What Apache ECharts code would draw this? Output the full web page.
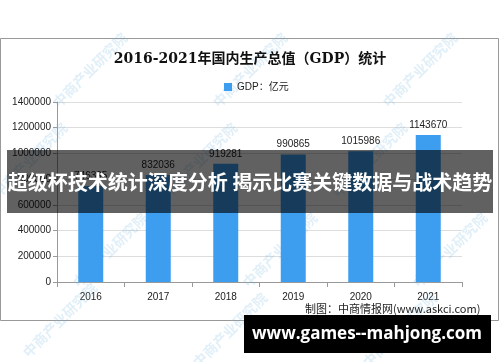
<!DOCTYPE html>
<html><head><meta charset="utf-8">
<script src="https://cdn.jsdelivr.net/npm/echarts@6/dist/echarts.min.js"></script>
<style>html,body{margin:0;padding:0;background:#fff}#c{width:500px;height:362px}</style>
</head><body><div id="c"></div>
<script>
const categories = ['2016','2017','2018','2019','2020','2021'];
const gdpValues = [746395, 832036, 919281, 990865, 1015986, 1143670];
const yTicks = [0, 200000, 400000, 600000, 800000, 1000000, 1200000, 1400000];
const titleText = '2016-2021年国内生产总值（GDP）统计';
const legendName = 'GDP：亿元';
const sourceText = '制图：中商情报网(www.askci.com)';
const bannerText = '超级杯技术统计深度分析 揭示比赛关键数据与战术趋势';
const footerText = 'www.games--mahjong.com';
const watermark = '中商产业研究院';

const chart = echarts.init(document.getElementById('c'), null, {renderer:'canvas'});
const wm = [];
const wmPos = [[90,70],[250,70],[420,70],[30,160],[200,160],[370,160],[110,250],[280,250],[450,250],[60,320],[230,330],[400,330]];
wmPos.forEach(p => wm.push({type:'text', x:p[0], y:p[1], rotation:Math.PI/4, z:1,
  style:{text:watermark, fill:'rgba(120,180,225,0.22)', font:'bold 14px "Noto Sans CJK SC"', textAlign:'center', textVerticalAlign:'middle'}}));

chart.setOption({
  animation:false,
  backgroundColor:'#fff',
  title:{text:titleText, left:'center', top:47, textStyle:{fontFamily:'"DejaVu Serif","Noto Sans CJK SC"', fontSize:14, fontWeight:'bold', color:'#111'}},
  legend:{data:[legendName], left:219, top:77, itemWidth:8, itemHeight:8, itemGap:4, icon:'rect',
    textStyle:{fontFamily:'"Liberation Sans","Noto Sans CJK SC"', fontSize:10, color:'#222'}},
  grid:{left:57, right:38, top:102, bottom:80},
  xAxis:{type:'category', data:categories,
    axisLine:{lineStyle:{color:'#999'}}, axisTick:{show:true, lineStyle:{color:'#999'}},
    axisLabel:{color:'#222', fontSize:10, fontFamily:'"Liberation Sans"', margin:10}},
  yAxis:{type:'value', min:0, max:1400000, interval:200000,
    axisLine:{show:true, lineStyle:{color:'#999'}}, axisTick:{show:true, length:4, lineStyle:{color:'#999'}},
    axisLabel:{color:'#222', fontSize:10, fontFamily:'"Liberation Sans"', margin:6,
      formatter:v => yTicks.includes(v) ? String(v) : ''},
    splitLine:{lineStyle:{color:'#ddd'}}},
  series:[{name:legendName, type:'bar', data:gdpValues, barWidth:25, itemStyle:{color:'#3d9ef0'},
    label:{show:true, position:'top', distance:5, color:'#222', fontSize:10, fontFamily:'"Liberation Sans"'}}],
  graphic:[
    {type:'rect', shape:{x:0.5, y:38.5, width:498, height:282}, style:{fill:'none', stroke:'#999', lineWidth:1}, z:0},
    ...wm,
    {type:'text', left:305, top:303, z:5, style:{text:sourceText, fill:'#222', font:'11px "Noto Sans CJK SC"'}},
    {type:'rect', shape:{x:7, y:150, width:486, height:63}, style:{fill:'rgba(0,0,0,0.62)'}, z:10},
    {type:'text', x:250, y:182, z:11, style:{text:bannerText, fill:'#fff', font:'bold 20px "Noto Sans CJK SC"', textAlign:'center', textVerticalAlign:'middle'}},
    {type:'rect', shape:{x:244, y:315, width:247, height:38}, style:{fill:'#000'}, z:10},
    {type:'text', x:367, y:334, z:11, style:{text:footerText, fill:'#fff', font:'bold 17px "Open Sans","DejaVu Sans"', textAlign:'center', textVerticalAlign:'middle'}}
  ]
});
</script></body></html>
